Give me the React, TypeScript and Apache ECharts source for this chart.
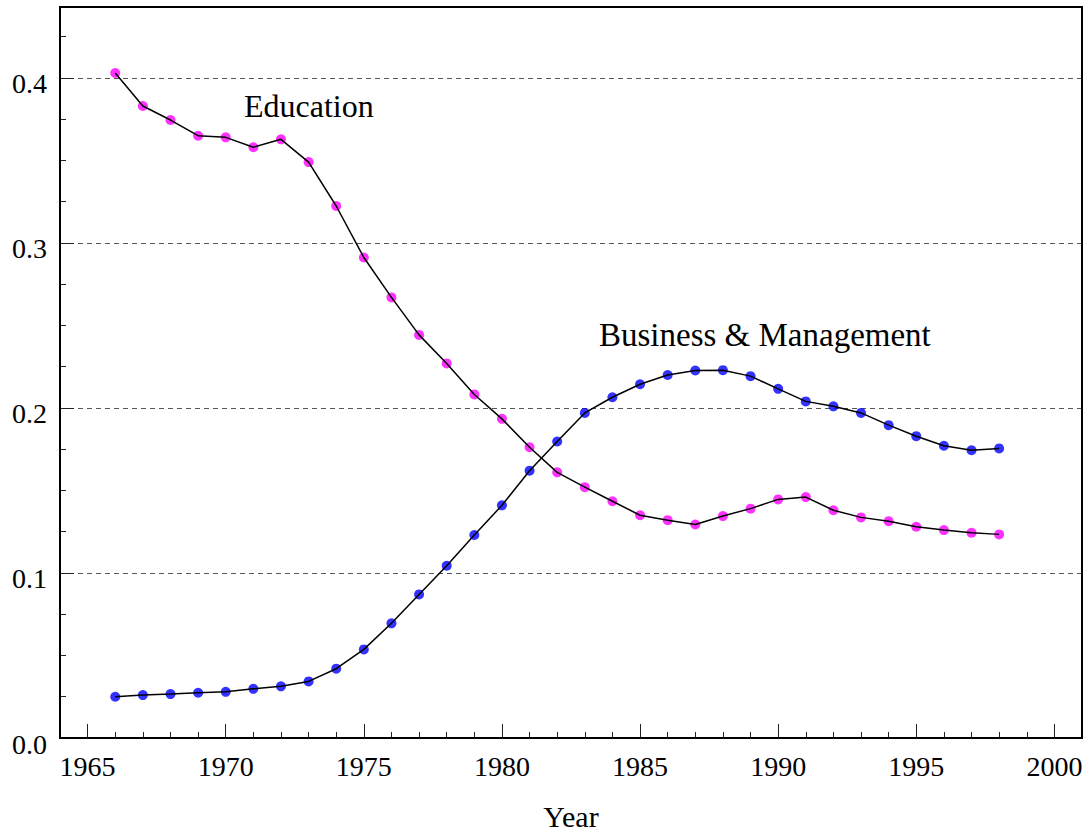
import React, { useEffect, useRef } from "react";
import * as echarts from "echarts";

const years = [
  1966, 1967, 1968, 1969, 1970, 1971, 1972, 1973, 1974, 1975, 1976, 1977, 1978, 1979, 1980, 1981, 1982,
  1983, 1984, 1985, 1986, 1987, 1988, 1989, 1990, 1991, 1992, 1993, 1994, 1995, 1996, 1997, 1998,
];
const education = [
  0.403, 0.383, 0.3745, 0.365, 0.364, 0.358, 0.3628, 0.349, 0.3224, 0.2912, 0.267, 0.2443, 0.227,
  0.2082, 0.1934, 0.1762, 0.161, 0.152, 0.1435, 0.135, 0.132, 0.1294, 0.1345, 0.139, 0.1446, 0.146,
  0.138, 0.1337, 0.1314, 0.128, 0.126, 0.1244, 0.1234,
];
const business = [
  0.025, 0.026, 0.0266, 0.0274, 0.028, 0.0298, 0.0313, 0.0343, 0.042, 0.0537, 0.0695, 0.087, 0.1044,
  0.123, 0.141, 0.162, 0.1797, 0.197, 0.2065, 0.2144, 0.22, 0.2227, 0.2229, 0.2193, 0.2116, 0.204,
  0.201, 0.197, 0.1896, 0.1829, 0.1771, 0.1744, 0.1755,
];
const xMajorTicks = [1965, 1970, 1975, 1980, 1985, 1990, 1995, 2000];
const xMinorTicks = [
  1965, 1966, 1967, 1968, 1969, 1970, 1971, 1972, 1973, 1974, 1975, 1976, 1977, 1978, 1979, 1980,
  1981, 1982, 1983, 1984, 1985, 1986, 1987, 1988, 1989, 1990, 1991, 1992, 1993, 1994, 1995, 1996,
  1997, 1998, 1999, 2000,
];
const yMajorTicks = [0, 0.1, 0.2, 0.3, 0.4];
const yMinorTicks = [
  0.025, 0.05, 0.075, 0.125, 0.15, 0.175, 0.225, 0.25, 0.275, 0.325, 0.35, 0.375, 0.425,
];
const labelEducation = "Education";
const labelBusiness = "Business & Management";

const FONT = "'Liberation Serif', 'Times New Roman', serif";
const W = 1089;
const H = 835;
const G = { left: 60, top: 7, right: 7, bottom: 97 };

export default function App() {
  const ref = useRef<HTMLDivElement>(null);
  useEffect(() => {
    if (!ref.current) return;
    const chart = echarts.init(ref.current, undefined, { renderer: "svg", width: W, height: H });
    const xBase = {
      type: "value",
      min: 1964,
      max: 2001,
      splitLine: { show: false },
    };
    const yBase = {
      type: "value",
      min: 0,
      max: 0.443,
    };
    chart.setOption({
      animation: false,
      backgroundColor: "#fff",
      grid: { ...G, containLabel: false, outerBoundsMode: "none" },
      xAxis: [
        {
          ...xBase,
          position: "bottom",
          axisLine: { show: true, onZero: false, lineStyle: { color: "#000", width: 2 } },
          axisTick: {
            show: true,
            inside: true,
            length: 14,
            customValues: xMajorTicks,
            lineStyle: { color: "#222", width: 1 },
          },
          axisLabel: {
            show: true,
            customValues: xMajorTicks,
            formatter: (v: number) => String(v),
            fontSize: 28,
            fontFamily: FONT,
            color: "#000",
            margin: 14,
          },
          name: "Year",
          nameLocation: "middle",
          nameGap: 63,
          nameTextStyle: { fontSize: 30, fontFamily: FONT, color: "#000" },
        },
        {
          ...xBase,
          position: "bottom",
          axisLine: { show: false },
          axisTick: {
            show: true,
            inside: true,
            length: 6,
            customValues: xMinorTicks,
            lineStyle: { color: "#222", width: 1 },
          },
          axisLabel: { show: false },
        },
      ],
      yAxis: [
        {
          ...yBase,
          interval: 0.1,
          position: "left",
          axisLine: { show: true, onZero: false, lineStyle: { color: "#000", width: 2 } },
          axisTick: {
            show: true,
            inside: true,
            length: 14,
            customValues: yMajorTicks,
            lineStyle: { color: "#222", width: 1 },
          },
          axisLabel: {
            show: true,
            customValues: yMajorTicks,
            formatter: (v: number) => v.toFixed(1),
            fontSize: 28,
            fontFamily: FONT,
            color: "#000",
            margin: 13,
            verticalAlign: "top",
            lineHeight: 12,
          },
          splitLine: {
            show: true,
            showMinLine: false,
            lineStyle: { color: "#555", width: 1, type: [5, 4] },
          },
        },
        {
          ...yBase,
          position: "left",
          axisLine: { show: false },
          axisTick: {
            show: true,
            inside: true,
            length: 6,
            customValues: yMinorTicks,
            lineStyle: { color: "#222", width: 1 },
          },
          axisLabel: { show: false },
          splitLine: { show: false },
        },
      ],
      series: [
        {
          type: "scatter",
          data: years.map((y, i) => [y, education[i]]),
          symbol: "circle",
          symbolSize: 10,
          itemStyle: { color: "#ff00ff" },
          z: 2,
        },
        {
          type: "scatter",
          data: years.map((y, i) => [y, business[i]]),
          symbol: "circle",
          symbolSize: 10,
          itemStyle: { color: "#0000ff" },
          z: 2,
        },
        {
          type: "line",
          data: years.map((y, i) => [y, education[i]]),
          showSymbol: false,
          lineStyle: { color: "#000", width: 1.5 },
          z: 3,
        },
        {
          type: "line",
          data: years.map((y, i) => [y, business[i]]),
          showSymbol: false,
          lineStyle: { color: "#000", width: 1.5 },
          z: 3,
        },
      ],
      graphic: [
        {
          type: "rect",
          z: 10,
          silent: true,
          shape: {
            x: G.left,
            y: G.top,
            width: W - G.left - G.right,
            height: H - G.top - G.bottom,
          },
          style: { fill: "none", stroke: "#000", lineWidth: 2 },
        },
        {
          type: "text",
          left: 244,
          top: 90,
          style: { text: labelEducation, fontSize: 32, fontFamily: FONT, fill: "#000" },
        },
        {
          type: "text",
          left: 599,
          top: 318,
          style: { text: labelBusiness, fontSize: 33, fontFamily: FONT, fill: "#000" },
        },
      ],
    });
    return () => chart.dispose();
  }, []);
  return (
    <div
      ref={ref}
      style={{ position: "absolute", left: 0, top: 0, width: W, height: H, overflow: "hidden" }}
    />
  );
}
